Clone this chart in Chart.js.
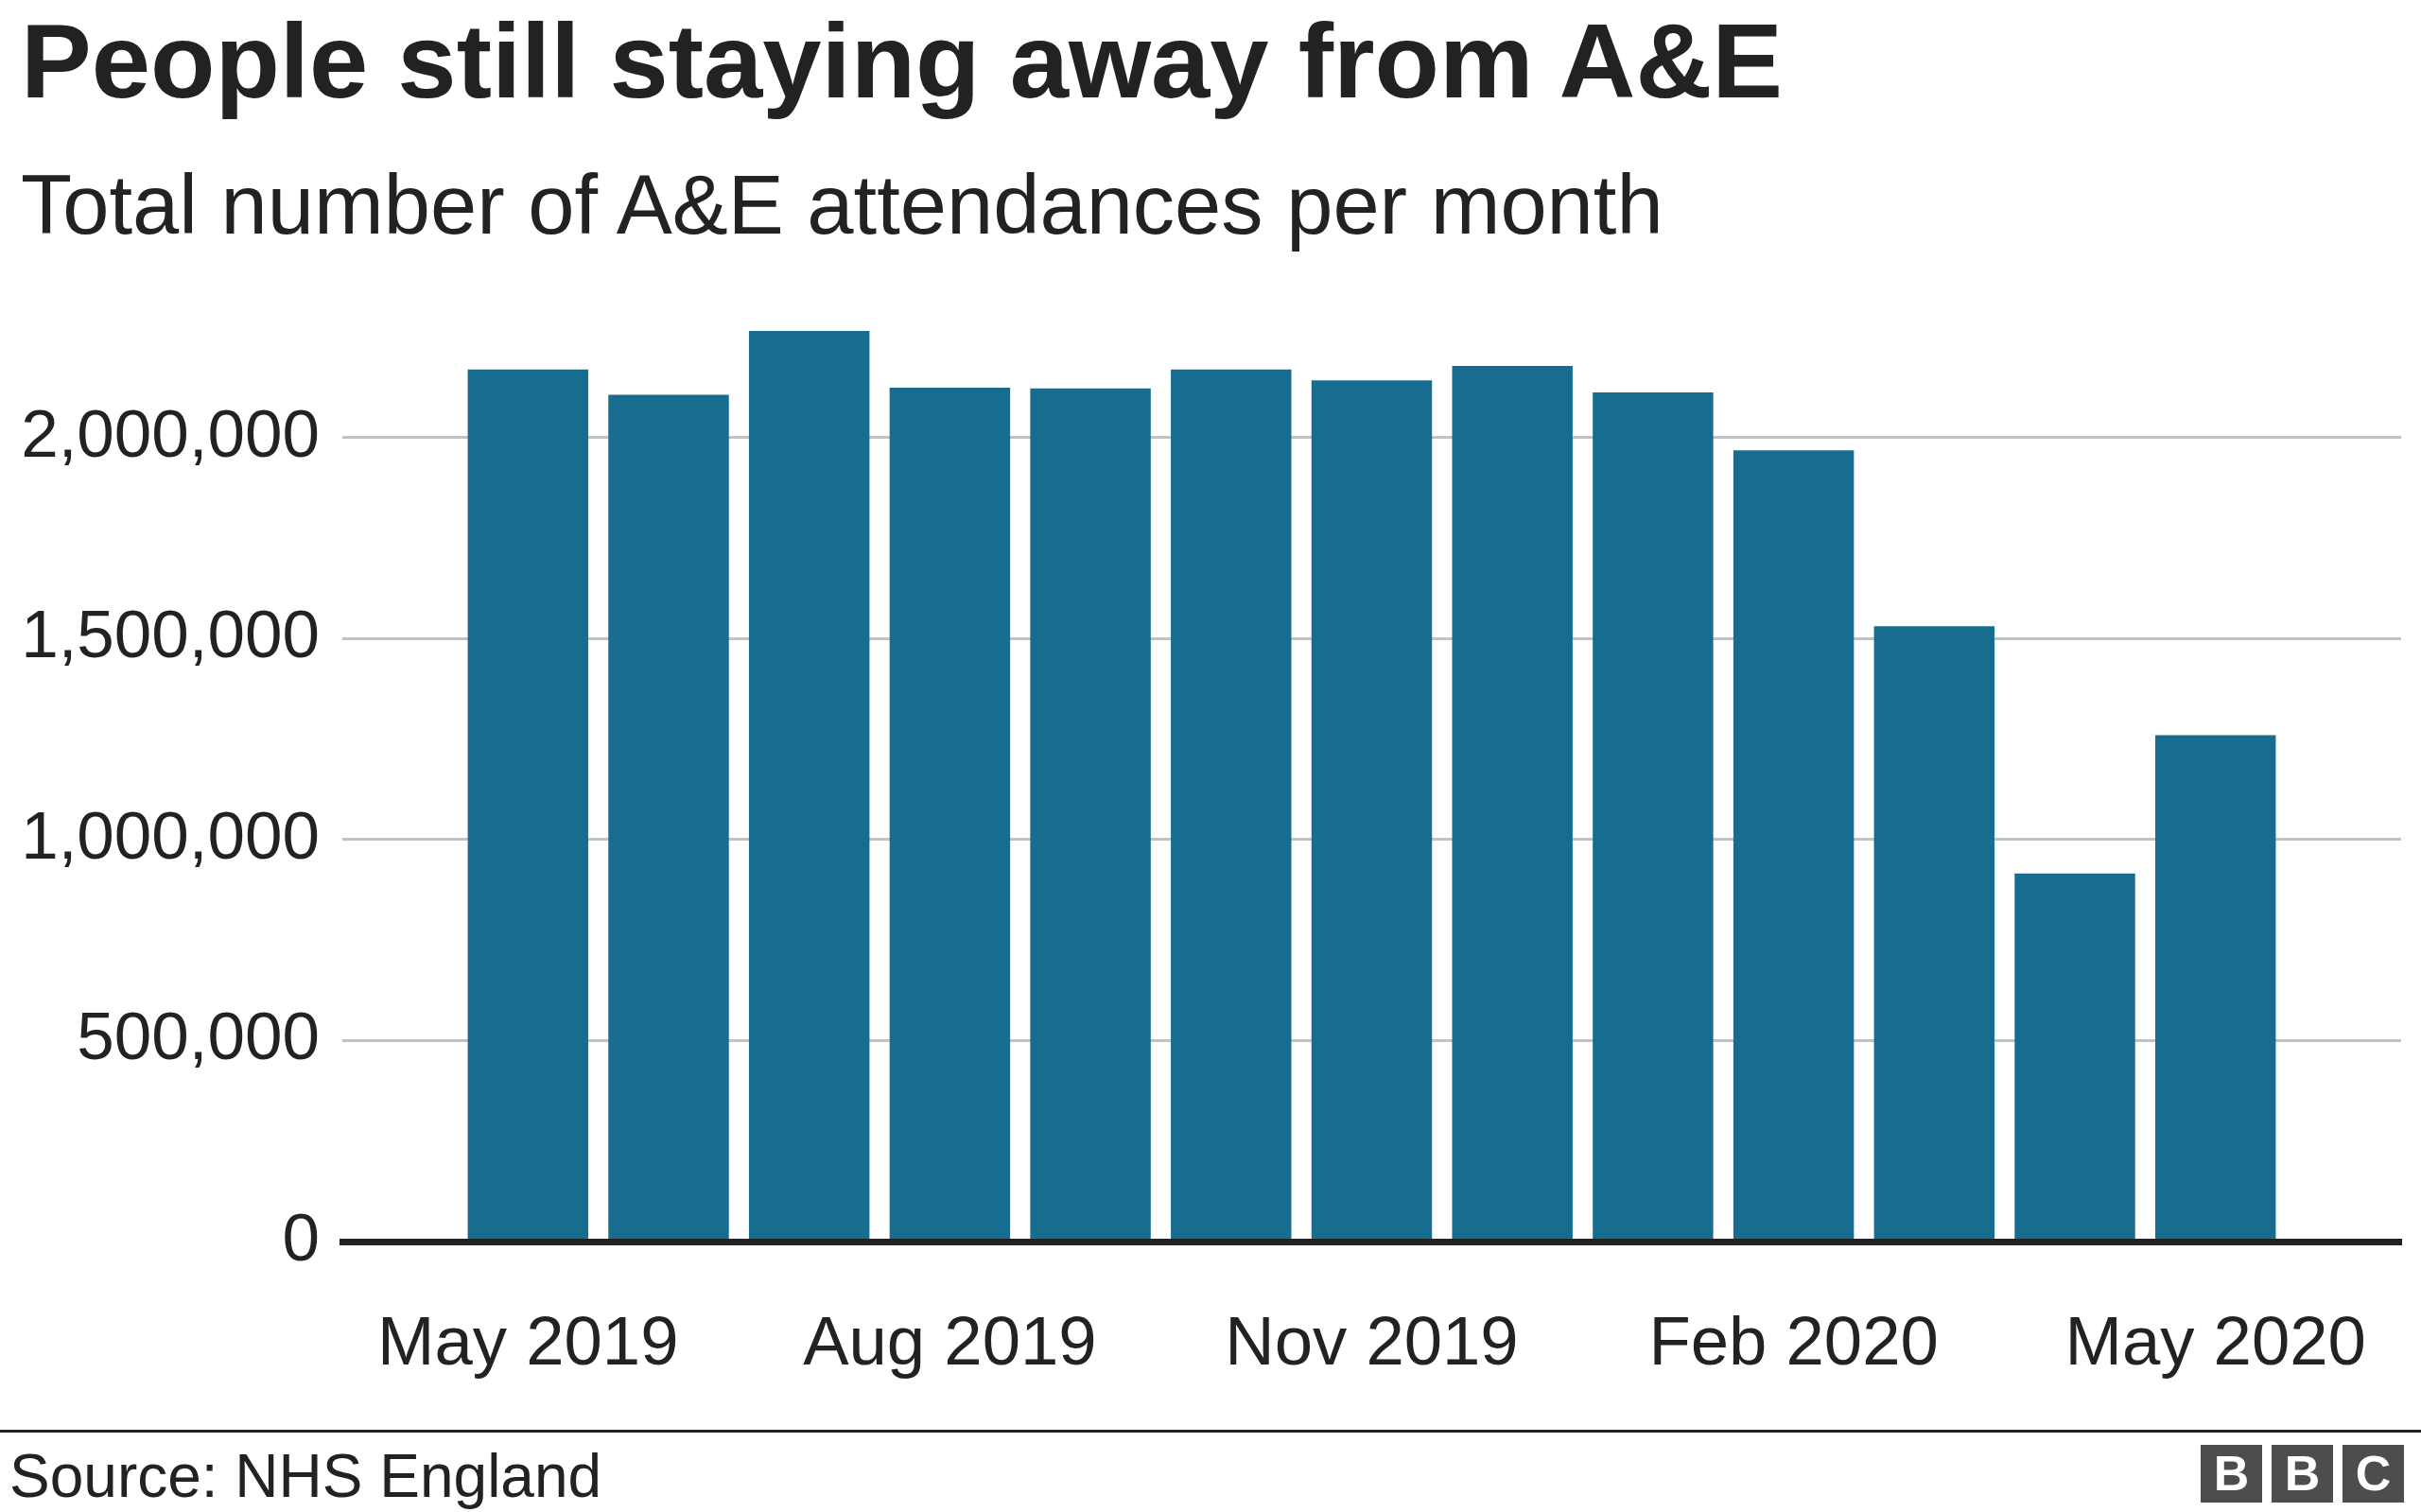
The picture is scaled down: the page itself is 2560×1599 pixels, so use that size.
<!DOCTYPE html>
<html>
  <head>
    <meta charset="UTF-8" />
    <title>People still staying away from A&amp;E</title>
    <script src="https://cdn.jsdelivr.net/npm/chart.js@4/dist/chart.umd.min.js"></script>
    <style>
      body { margin: 0; width: 2560px; height: 1599px; background: #fff; position: relative; overflow: hidden;
             font-family: "Liberation Sans", Arial, sans-serif; color: #222; }
      .txt { position: absolute; line-height: 1; white-space: nowrap; }
      #title { left: 22px; top: 9px; font-size: 112px; font-weight: bold; }
      #subtitle { left: 22px; top: 173px; font-size: 88.5px; }
      #chartWrap { position: absolute; left: 0; top: 260px; width: 2560px; height: 1240px; }
      #rule { position: absolute; left: 0; top: 1512px; width: 2560px; height: 3px; background: #222; }
      #source { left: 10px; top: 1529px; font-size: 64px; }
      #logo { position: absolute; left: 2327px; top: 1528px; display: flex; gap: 10px; }
      #logo span { width: 65px; height: 61px; background: #4d4d4d; color: #fff; font-weight: bold;
                   font-size: 52px; line-height: 61px; text-align: center; }
    </style>
  </head>
  <body>
    <div class="txt" id="title">People still staying away from A&amp;E</div>
    <div class="txt" id="subtitle">Total number of A&amp;E attendances per month</div>
    <div id="chartWrap"><canvas id="chart"></canvas></div>
    <div id="rule"></div>
    <div class="txt" id="source">Source: NHS England</div>
    <div id="logo"><span>B</span><span>B</span><span>C</span></div>

    <script>
      // monthly attendances
      const months = ["May 2019", "Jun 2019", "Jul 2019", "Aug 2019", "Sep 2019", "Oct 2019", "Nov 2019",
                      "Dec 2019", "Jan 2020", "Feb 2020", "Mar 2020", "Apr 2020", "May 2020"];
      const attendances = [2170000, 2107000, 2266000, 2125000, 2123000, 2170000, 2143000,
                           2179000, 2113000, 1969000, 1531000, 916000, 1260000];
      const xTickIndexes = [0, 3, 6, 9, 12];
      const yTicks = [0, 500000, 1000000, 1500000, 2000000];

      const barColour = "#176d8f";
      const font = { family: "'Liberation Sans', Arial, sans-serif", size: 72.5 };

      new Chart(document.getElementById("chart"), {
        type: "bar",
        data: {
          datasets: [{
            data: attendances.map((v, i) => ({ x: i, y: v })),
            backgroundColor: barColour,
            barPercentage: 0.857,
            categoryPercentage: 1
          }]
        },
        options: {
          responsive: true,
          maintainAspectRatio: false,
          animation: false,
          layout: { padding: { top: 33, right: 21, left: 0, bottom: 0 } },
          plugins: { legend: { display: false }, tooltip: { enabled: false } },
          scales: {
            x: {
              type: "linear",
              offset: false,
              min: -1.32,
              max: 13.32,
              grid: { display: false, drawTicks: false },
              border: { display: true, color: "#222", width: 7, z: 1 },
              afterBuildTicks: s => { s.ticks = xTickIndexes.map(v => ({ value: v })); },
              afterFit: s => { s.height = 187; s.paddingLeft = 0; s.paddingRight = 0; },
              ticks: {
                autoSkip: false,
                maxRotation: 0,
                padding: 66,
                color: "#222",
                font: font,
                callback: v => months[v]
              }
            },
            y: {
              min: 0,
              max: 2400000,
              afterBuildTicks: s => { s.ticks = yTicks.map(v => ({ value: v })); },
              afterFit: s => { s.width = 362; s.paddingTop = 0; s.paddingBottom = 0; },
              border: { display: false },
              grid: {
                drawTicks: false,
                color: c => c.tick && c.tick.value === 0 ? "rgba(0,0,0,0)" : "#c2c2c2",
                lineWidth: 3
              },
              ticks: {
                padding: 24,
                color: "#222",
                font: { family: font.family, size: 71 },
                callback: v => v.toLocaleString("en-GB")
              }
            }
          }
        }
      });
    </script>
  </body>
</html>
